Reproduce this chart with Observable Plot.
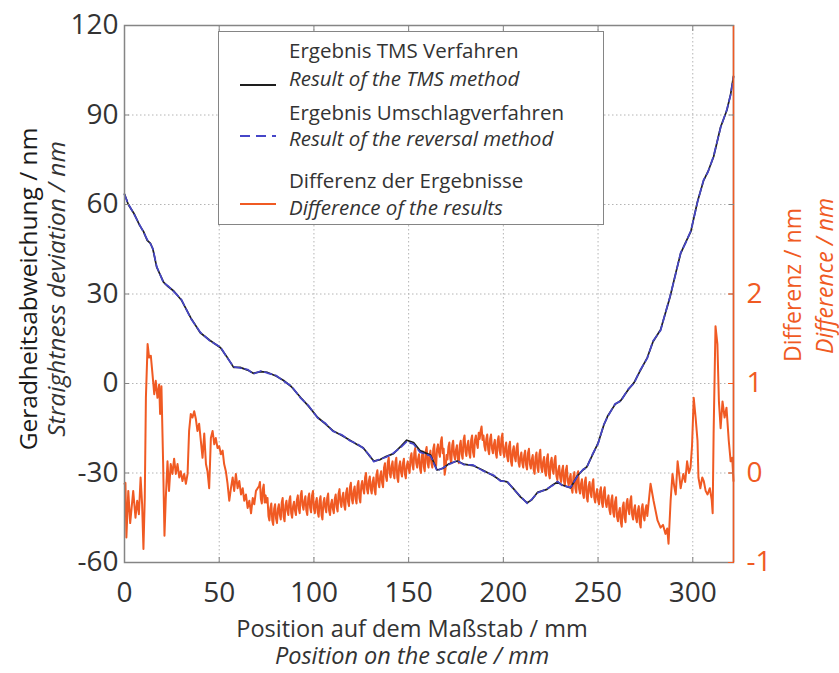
<!DOCTYPE html>
<html>
<head>
<meta charset="utf-8">
<script src="https://cdn.jsdelivr.net/npm/d3@7"></script>
<script src="https://cdn.jsdelivr.net/npm/@observablehq/plot@0.6"></script>
<style>
  body { margin: 0; background: #fff; }
  #wrap { position: relative; width: 839px; height: 673px; font-family: "Open Sans", sans-serif; color: #333; }
  #legend { position: absolute; left: 218px; top: 31px; width: 386px; height: 194px; border: 1.5px solid #858585; background: #fff; box-sizing: border-box; }
  .lg-text { position: absolute; left: 70px; font-size: 20.5px; line-height: 24px; white-space: nowrap; color: #333; }
  .lg-it { font-style: italic; }
  .lg-line { position: absolute; left: 21px; width: 36px; height: 4px; }
</style>
</head>
<body>
<div id="wrap"></div>
<script>
// ---------- data ----------
const xTicks = [0, 50, 100, 150, 200, 250, 300];
const yTicks = [-60, -30, 0, 30, 60, 90, 120];
const rightTicks = [-1, 0, 1, 2];
const xDomain = [0, 321.5];
const leftDomain = [-60, 120];
const rightDomain = [-1, 5];

// Ergebnis TMS Verfahren: [position mm, deviation nm]
const tmsPoints = [
  [0,63.5],[2,60],[5,57],[8,53],[10,51],[12,48],[13.7,47],[15,45],[17,39],[20.6,34],
  [23,32.5],[26,31],[30,28],[35,22],[40,17],[45,14.5],[50.7,12],[54,9],[57.6,5.4],[61,5.4],
  [65,4.5],[68,3.4],[72,4],[75.5,3.7],[80,2.5],[84,1],[88,-1],[93,-4.7],[97,-7.5],[102,-11.4],
  [106,-13.5],[110,-15.8],[115,-17.5],[119,-19],[123,-20.5],[126,-21.5],[129,-24],[131.6,-26],[135,-25.5],[138,-24.5],
  [142,-23.5],[146,-21],[149,-19],[152.6,-19.8],[156,-22.5],[161.6,-24],[165,-29],[168,-28.5],[171,-27],[175.6,-26],
  [179,-27],[184,-27.5],[189,-29],[195,-31],[198.5,-32.5],[202,-33],[205,-35],[209,-38],[212.6,-40],[215,-39],
  [218,-36.5],[223,-35.5],[226,-34],[228.6,-33],[231,-34],[235.5,-35],[239,-31],[242,-29],[244,-28],[247,-24],
  [250,-20],[253,-14],[255,-11],[259,-7],[262,-5.7],[266,-2],[269,0.3],[272,4],[276,8.7],[279,14],
  [283,18],[288,29],[291,37],[293.6,43.6],[296,47],[299,51],[302.5,61],[305.7,68],[308,71],[311,76],
  [314.7,86],[318,91.6],[320,97],[321.5,103]
];

// Ergebnis Umschlagverfahren: [position mm, deviation nm]
const revPoints = [
  [0,63.3],[2,60.2],[5,56.8],[8,53.2],[10,50.8],[12,48.2],[13.7,46.8],[15,45.2],[17,39.2],[20.6,33.8],
  [23,32.7],[26,30.8],[30,28.2],[35,21.8],[40,17.2],[45,14.3],[50.7,12.2],[54,8.8],[57.6,5.6],[61,5.2],
  [65,4.7],[68,3.2],[72,4.2],[75.5,3.5],[80,2.7],[84,0.8],[88,-0.8],[93,-4.9],[97,-7.3],[102,-11.6],
  [106,-13.3],[110,-16],[115,-17.3],[119,-19.2],[123,-20.3],[126,-21.7],[129,-23.8],[131.6,-26.2],[135,-25.3],[138,-24.7],
  [142,-23.3],[146,-21.3],[149,-19.5],[152.6,-20.3],[156,-23],[161.6,-24.3],[165,-29.3],[168,-28.3],[171,-27.2],[175.6,-25.8],
  [179,-27.2],[184,-27.3],[189,-29.2],[195,-30.8],[198.5,-32.7],[202,-32.8],[205,-35.2],[209,-37.8],[212.6,-40.2],[215,-38.8],
  [218,-36.7],[223,-35.3],[226,-34.2],[228.6,-32.8],[231,-34.2],[235.5,-34.8],[239,-31.2],[242,-28.8],[244,-28.2],[247,-23.8],
  [250,-20.2],[253,-13.8],[255,-11.2],[259,-6.8],[262,-5.9],[266,-1.8],[269,0.1],[272,4.2],[276,8.5],[279,14.2],
  [283,17.8],[288,29.2],[291,36.8],[293.6,43.8],[296,46.8],[299,51.2],[302.5,60.8],[305.7,68.2],[308,70.8],[311,76.2],
  [314.7,85.8],[318,91.8],[320,96.8],[321.5,102.8]
];

// Differenz der Ergebnisse: [position mm, difference nm] (right axis)
const diffPoints = [
  [0,-0.12],[0.5,-0.11],[1,-0.72],[2,-0.2],[3,-0.56],[4.6,-0.2],[5.8,-0.5],[6.7,-0.31],[7.6,-0.46],[8.5,-0.05],
  [9.3,-0.35],[10,-0.85],[10.7,-0.28],[11.3,0.84],[12.2,1.44],[13,1.29],[13.9,1.31],[14.8,1.1],[15.7,0.88],[16.5,1.03],
  [17.4,0.84],[18.3,0.99],[18.8,0.66],[19.5,0.97],[20.4,0.1],[21.1,-0.7],[21.8,-0.28],[22.7,0.13],[23.5,-0.2],[24.4,0.1],
  [25.3,-0.01],[26.2,0.16],[27.1,-0.01],[28,0.1],[28.9,-0.05],[29.7,0.02],[30.6,-0.09],[31.5,-0.01],[32.4,-0.12],[33.3,-0.01],
  [34.1,0.47],[35,0.66],[35.9,0.62],[36.8,0.69],[37.7,0.6],[38.5,0.47],[39.4,0.55],[40.3,0.36],[41.2,0.17],[42.1,0.44],
  [43,0.1],[43.8,0.02],[44.7,-0.17],[45.6,0.39],[46.5,0.47],[47.4,0.32],[48.2,0.39],[49.1,0.28],[50,0.3],[50.9,0.21],
  [51.8,0.25],[52.6,0.1],[53.5,0.02],[54.4,-0.12],[55.3,-0.31],[56.2,-0.17],[57.1,-0.05],[57.9,-0.2],[58.8,-0.01],[59.7,-0.17],
  [60.6,-0.09],[61.5,-0.24],[62.4,-0.17],[63.2,-0.31],[64.1,-0.24],[65,-0.39],[65.9,-0.31],[66.8,-0.45],[67.7,-0.28],[68.5,-0.35],
  [69.4,-0.2],[70.3,-0.17],
  [71,-0.15],[71.5,-0.10],[72,-0.29],[72.5,-0.34],[73,-0.18],[73.5,-0.13],[74,-0.33],[74.5,-0.25],[75,-0.33],[75.5,-0.28],
  [76,-0.48],[76.5,-0.53],[77,-0.39],[77.5,-0.34],[78,-0.53],[78.5,-0.58],[79,-0.40],[79.5,-0.35],[80,-0.51],[80.5,-0.56],
  [81,-0.40],[81.5,-0.35],[82,-0.47],[82.5,-0.52],[83,-0.33],[83.5,-0.28],[84,-0.49],[84.5,-0.54],[85,-0.36],[85.5,-0.31],
  [86,-0.42],[86.5,-0.47],[87,-0.31],[87.5,-0.26],[88,-0.45],[88.5,-0.50],[89,-0.37],[89.5,-0.32],[90,-0.42],[90.5,-0.47],
  [91,-0.30],[91.5,-0.25],[92,-0.40],[92.5,-0.45],[93,-0.25],[93.5,-0.20],[94,-0.36],[94.5,-0.41],[95,-0.31],[95.5,-0.26],
  [96,-0.42],[96.5,-0.47],[97,-0.28],[97.5,-0.23],[98,-0.39],[98.5,-0.44],[99,-0.25],[99.5,-0.20],[100,-0.40],[100.5,-0.45],
  [101,-0.33],[101.5,-0.28],[102,-0.44],[102.5,-0.49],[103,-0.31],[103.5,-0.26],[104,-0.47],[104.5,-0.52],[105,-0.33],[105.5,-0.28],
  [106,-0.39],[106.5,-0.44],[107,-0.28],[107.5,-0.23],[108,-0.42],[108.5,-0.47],[109,-0.35],[109.5,-0.30],[110,-0.40],[110.5,-0.45],
  [111,-0.29],[111.5,-0.24],[112,-0.38],[112.5,-0.43],[113,-0.23],[113.5,-0.18],[114,-0.33],[114.5,-0.38],[115,-0.27],[115.5,-0.22],
  [116,-0.36],[116.5,-0.41],[117,-0.22],[117.5,-0.17],[118,-0.32],[118.5,-0.37],[119,-0.16],[119.5,-0.11],[120,-0.29],[120.5,-0.34],
  [121,-0.20],[121.5,-0.15],[122,-0.29],[122.5,-0.34],[123,-0.14],[123.5,-0.09],[124,-0.28],[124.5,-0.33],[125,-0.14],[125.5,-0.09],
  [126,-0.18],[126.5,-0.23],[127,-0.05],[127.5,0.00],[128,-0.18],[128.5,-0.23],[129,-0.09],[129.5,-0.04],[130,-0.18],[130.5,-0.23],
  [131,-0.10],[131.5,-0.05],[132,-0.19],[132.5,-0.24],[133,-0.02],[133.5,0.03],[134,-0.11],[134.5,-0.16],[135,-0.03],[135.5,0.02],
  [136,-0.11],[136.5,-0.16],[137,0.06],[137.5,0.11],[138,-0.04],[138.5,-0.09],[139,0.12],[139.5,0.17],[140,0.00],[140.5,-0.05],
  [141,0.08],[141.5,0.13],[142,-0.01],[142.5,-0.06],[143,0.12],[143.5,0.17],[144,-0.05],[144.5,-0.10],[145,0.08],[145.5,0.13],
  [146,0.01],[146.5,-0.04],[147,0.11],[147.5,0.16],[148,-0.01],[148.5,-0.06],[149,0.08],[149.5,0.13],[150,0.05],[150.5,0.00],
  [151,0.17],[151.5,0.22],[152,0.09],[152.5,0.04],[153,0.23],[153.5,0.28],[154,0.11],[154.5,0.06],[155,0.16],[155.5,0.21],
  [156,0.05],[156.5,0.00],[157,0.19],[157.5,0.24],[158,0.07],[158.5,0.02],[159,0.24],[159.5,0.29],[160,0.11],[160.5,0.06],
  [161,0.20],[161.5,0.25],[162,0.11],[162.5,0.06],[163,0.27],[163.5,0.32],[164,0.13],[164.5,0.08],[165,0.27],[165.5,0.32],
  [166,0.23],[166.5,0.18],[167,0.35],[167.5,0.40],[168,0.22],[168.5,0.27],[169,-0.02],[169.5,0.05],[170,0.20],[170.5,0.15],
  [171,0.29],[171.5,0.34],[172,0.16],[172.5,0.11],[173,0.31],[173.5,0.36],[174,0.20],[174.5,0.15],[175,0.26],[175.5,0.31],
  [176,0.16],[176.5,0.11],[177,0.31],[177.5,0.36],[178,0.21],[178.5,0.16],[179,0.37],[179.5,0.42],[180,0.24],[180.5,0.19],
  [181,0.31],[181.5,0.36],[182,0.22],[182.5,0.17],[183,0.37],[183.5,0.42],[184,0.23],[184.5,0.18],[185,0.37],[185.5,0.42],
  [186,0.33],[186.5,0.28],[187,0.45],[187.5,0.38],[188,0.47],[188.5,0.52],[189,0.37],[189.5,0.42],[190,0.30],[190.5,0.25],
  [191,0.38],[191.5,0.43],[192,0.26],[192.5,0.21],[193,0.38],[193.5,0.43],[194,0.27],[194.5,0.22],[195,0.32],[195.5,0.37],
  [196,0.22],[196.5,0.17],[197,0.36],[197.5,0.41],[198,0.25],[198.5,0.20],[199,0.39],[199.5,0.44],[200,0.23],[200.5,0.18],
  [201,0.29],[201.5,0.34],[202,0.18],[202.5,0.13],[203,0.30],[203.5,0.35],[204,0.13],[204.5,0.08],[205,0.25],[205.5,0.30],
  [206,0.18],[206.5,0.13],[207,0.28],[207.5,0.33],[208,0.12],[208.5,0.07],[209,0.18],[209.5,0.23],[210,0.11],[210.5,0.06],
  [211,0.20],[211.5,0.25],[212,0.09],[212.5,0.04],[213,0.22],[213.5,0.27],[214,0.10],[214.5,0.05],[215,0.15],[215.5,0.20],
  [216,0.04],[216.5,-0.01],[217,0.18],[217.5,0.23],[218,0.06],[218.5,0.01],[219,0.21],[219.5,0.26],[220,0.06],[220.5,0.01],
  [221,0.13],[221.5,0.18],[222,0.02],[222.5,-0.03],[223,0.16],[223.5,0.21],[224,-0.01],[224.5,-0.06],[225,0.12],[225.5,0.17],
  [226,0.04],[226.5,-0.01],[227,0.14],[227.5,0.19],[228,-0.03],[228.5,-0.08],[229,0.03],[229.5,0.08],[230,-0.05],[230.5,-0.10],
  [231,0.03],[231.5,0.08],[232,-0.09],[232.5,-0.14],[233,0.03],[233.5,0.08],[234,-0.09],[234.5,-0.14],[235,-0.06],[235.5,-0.01],
  [236,-0.17],[236.5,-0.22],[237,-0.04],[237.5,0.01],[238,-0.17],[238.5,-0.22],[239,-0.03],[239.5,0.02],[240,-0.18],[240.5,-0.23],
  [241,-0.12],[241.5,-0.07],[242,-0.23],[242.5,-0.28],[243,-0.10],[243.5,-0.05],[244,-0.27],[244.5,-0.32],[245,-0.15],[245.5,-0.10],
  [246,-0.22],[246.5,-0.27],[247,-0.12],[247.5,-0.07],[248,-0.28],[248.5,-0.33],[249,-0.23],[249.5,-0.18],[250,-0.30],[250.5,-0.35],
  [251,-0.21],[251.5,-0.16],[252,-0.33],[252.5,-0.38],[253,-0.21],[253.5,-0.16],[254,-0.33],[254.5,-0.38],[255,-0.30],[255.5,-0.25],
  [256,-0.41],[256.5,-0.46],[257,-0.30],[257.5,-0.25],[258,-0.44],[258.5,-0.49],[259,-0.32],[259.5,-0.27],[260,-0.49],[260.5,-0.54],
  [261,-0.44],[261.5,-0.39],[262,-0.55],[262.5,-0.60],[263,-0.38],[263.5,-0.33],[264,-0.50],[264.5,-0.55],[265,-0.34],[265.5,-0.29],
  [266,-0.41],[266.5,-0.46],[267,-0.31],[267.5,-0.26],[268,-0.47],[268.5,-0.52],[269,-0.41],[269.5,-0.36],[270,-0.50],[270.5,-0.55],
  [271,-0.42],[271.5,-0.37],[272,-0.56],[272.5,-0.61],[273,-0.40],[273.5,-0.35],[274,-0.48],[274.5,-0.53],[275,-0.41],[275.5,-0.36],
  [276,-0.48],
  [277.7,-0.12],[279.3,-0.31],[281.4,-0.53],[283,-0.61],[284.3,-0.58],[285.6,-0.68],[286.5,-0.62],[287.2,-0.79],[288.3,-0.31],[289.3,-0.01],
  [290.2,-0.15],[291,-0.24],[292,0.13],[293,-0.05],[293.6,-0.17],[295,-0.01],[296,-0.1],[297,0.13],[298,0.0],[298.8,0.06],
  [299.6,0.3],[300.5,0.84],[301.5,0.62],[302.5,0.36],[303,-0.05],[304,-0.17],[305,-0.05],[305.8,-0.09],[306.8,-0.2],[307.8,-0.24],
  [309,-0.17],[310,-0.3],[310.5,-0.45],[311,0.44],[312,1.64],[313,1.44],[313.8,0.8],[314.7,0.5],[315.7,0.8],[316.8,0.62],
  [317.8,0.73],[319,0.36],[320,0.13],[320.8,0.17],[321.5,-0.09]
];

const legendEntries = [
  { de: "Ergebnis TMS Verfahren", en: "Result of the TMS method", color: "#1e1e1e", dash: false },
  { de: "Ergebnis Umschlagverfahren", en: "Result of the reversal method", color: "#4646c8", dash: true },
  { de: "Differenz der Ergebnisse", en: "Difference of the results", color: "#f05a23", dash: false }
];

// ---------- styling ----------
const cBlack = "#1e1e1e";
const cBlue = "#4646c8";
const cOrange = "#f05a23";
const cText = "#333";
const cFrame = "#858585";
const cGrid = "#b4b4b4";

// map right-axis (difference) units onto the left scale
const k = (leftDomain[1] - leftDomain[0]) / (rightDomain[1] - rightDomain[0]);
const toLeft = v => leftDomain[0] + (v - rightDomain[0]) * k;
const fromLeft = v => rightDomain[0] + (v - leftDomain[0]) / k;

const chart = Plot.plot({
  width: 839,
  height: 673,
  marginLeft: 124,
  marginRight: 106,
  marginTop: 25,
  marginBottom: 111,
  style: { fontFamily: "'Open Sans', sans-serif", background: "#fff", color: cText },
  x: { domain: xDomain },
  y: { domain: leftDomain },
  marks: [
    Plot.gridX({ ticks: xTicks.slice(1), stroke: cGrid, strokeOpacity: 1, strokeDasharray: "1.5,2.5" }),
    Plot.gridY({ ticks: yTicks.slice(1, -1), stroke: cGrid, strokeOpacity: 1, strokeDasharray: "1.5,2.5" }),
    Plot.line(diffPoints, { x: d => d[0], y: d => toLeft(d[1]), stroke: cOrange, strokeWidth: 2 }),
    Plot.line(tmsPoints, { x: d => d[0], y: d => d[1], stroke: cBlack, strokeWidth: 1.7 }),
    Plot.line(revPoints, { x: d => d[0], y: d => d[1], stroke: cBlue, strokeWidth: 1.7, strokeDasharray: "7,4" }),
    Plot.frame({ stroke: cFrame, strokeWidth: 1.5 }),
    Plot.ruleX([xDomain[1]], { stroke: cOrange, strokeWidth: 1.5 }),
    Plot.axisX({ ticks: xTicks, anchor: "bottom", tickSize: -5, tickPadding: 25, fontSize: 28, stroke: cFrame, fill: cText, tickFormat: d => String(d) }),
    Plot.axisX({ ticks: xTicks, anchor: "top", tickSize: -5, stroke: cFrame, text: null }),
    Plot.axisY({ ticks: yTicks, anchor: "left", tickSize: -5, tickPadding: 11, fontSize: 28, stroke: cFrame, fill: cText, tickFormat: d => String(d) }),
    Plot.axisY({ ticks: yTicks, anchor: "right", tickSize: -5, stroke: cFrame, text: null }),
    Plot.axisY({ ticks: rightTicks.map(toLeft), anchor: "right", tickSize: -6, tickPadding: 19, fontSize: 28, stroke: cOrange, fill: cOrange, tickFormat: d => String(Math.round(fromLeft(d))) })
  ]
});

const wrap = document.getElementById("wrap");
wrap.appendChild(chart);

// axis titles
const svg = d3.select(chart);
function addTitle(x, y, rot, text, italic, color, size) {
  svg.append("text")
    .attr("transform", `translate(${x},${y}) rotate(${rot})`)
    .attr("text-anchor", "middle")
    .attr("dominant-baseline", "central")
    .attr("font-family", "'Open Sans', sans-serif")
    .attr("font-size", size)
    .attr("font-style", italic ? "italic" : "normal")
    .attr("fill", color)
    .text(text);
}
addTitle(412, 628, 0, "Position auf dem Maßstab / mm", false, cText, 23.5);
addTitle(412, 655, 0, "Position on the scale / mm", true, cText, 23.5);
addTitle(27, 289, -90, "Geradheitsabweichung / nm", false, "#1a1a1a", 24.5);
addTitle(55, 289, -90, "Straightness deviation / nm", true, cText, 24.5);
addTitle(792, 285, -90, "Differenz / nm", false, cOrange, 23);
addTitle(824, 276, -90, "Difference / nm", true, cOrange, 23);

// legend (overlaid box inside the plot area)
const legend = document.createElement("div");
legend.id = "legend";
const textTops = [[6, 34], [68, 94], [136, 163]];
const sampleY = [40, 91, 159];
legendEntries.forEach((e, i) => {
  const ln = document.createElement("div");
  ln.className = "lg-line";
  ln.style.top = (sampleY[i] - 2) + "px";
  ln.innerHTML = `<svg width="36" height="4"><line x1="0" y1="2" x2="36" y2="2" stroke="${e.color}" stroke-width="2" ${e.dash ? 'stroke-dasharray="10,6"' : ''}/></svg>`;
  legend.appendChild(ln);
  const t1 = document.createElement("div");
  t1.className = "lg-text";
  t1.style.top = textTops[i][0] + "px";
  t1.textContent = e.de;
  legend.appendChild(t1);
  const t2 = document.createElement("div");
  t2.className = "lg-text lg-it";
  t2.style.top = textTops[i][1] + "px";
  t2.textContent = e.en;
  legend.appendChild(t2);
});
wrap.appendChild(legend);
</script>
</body>
</html>
